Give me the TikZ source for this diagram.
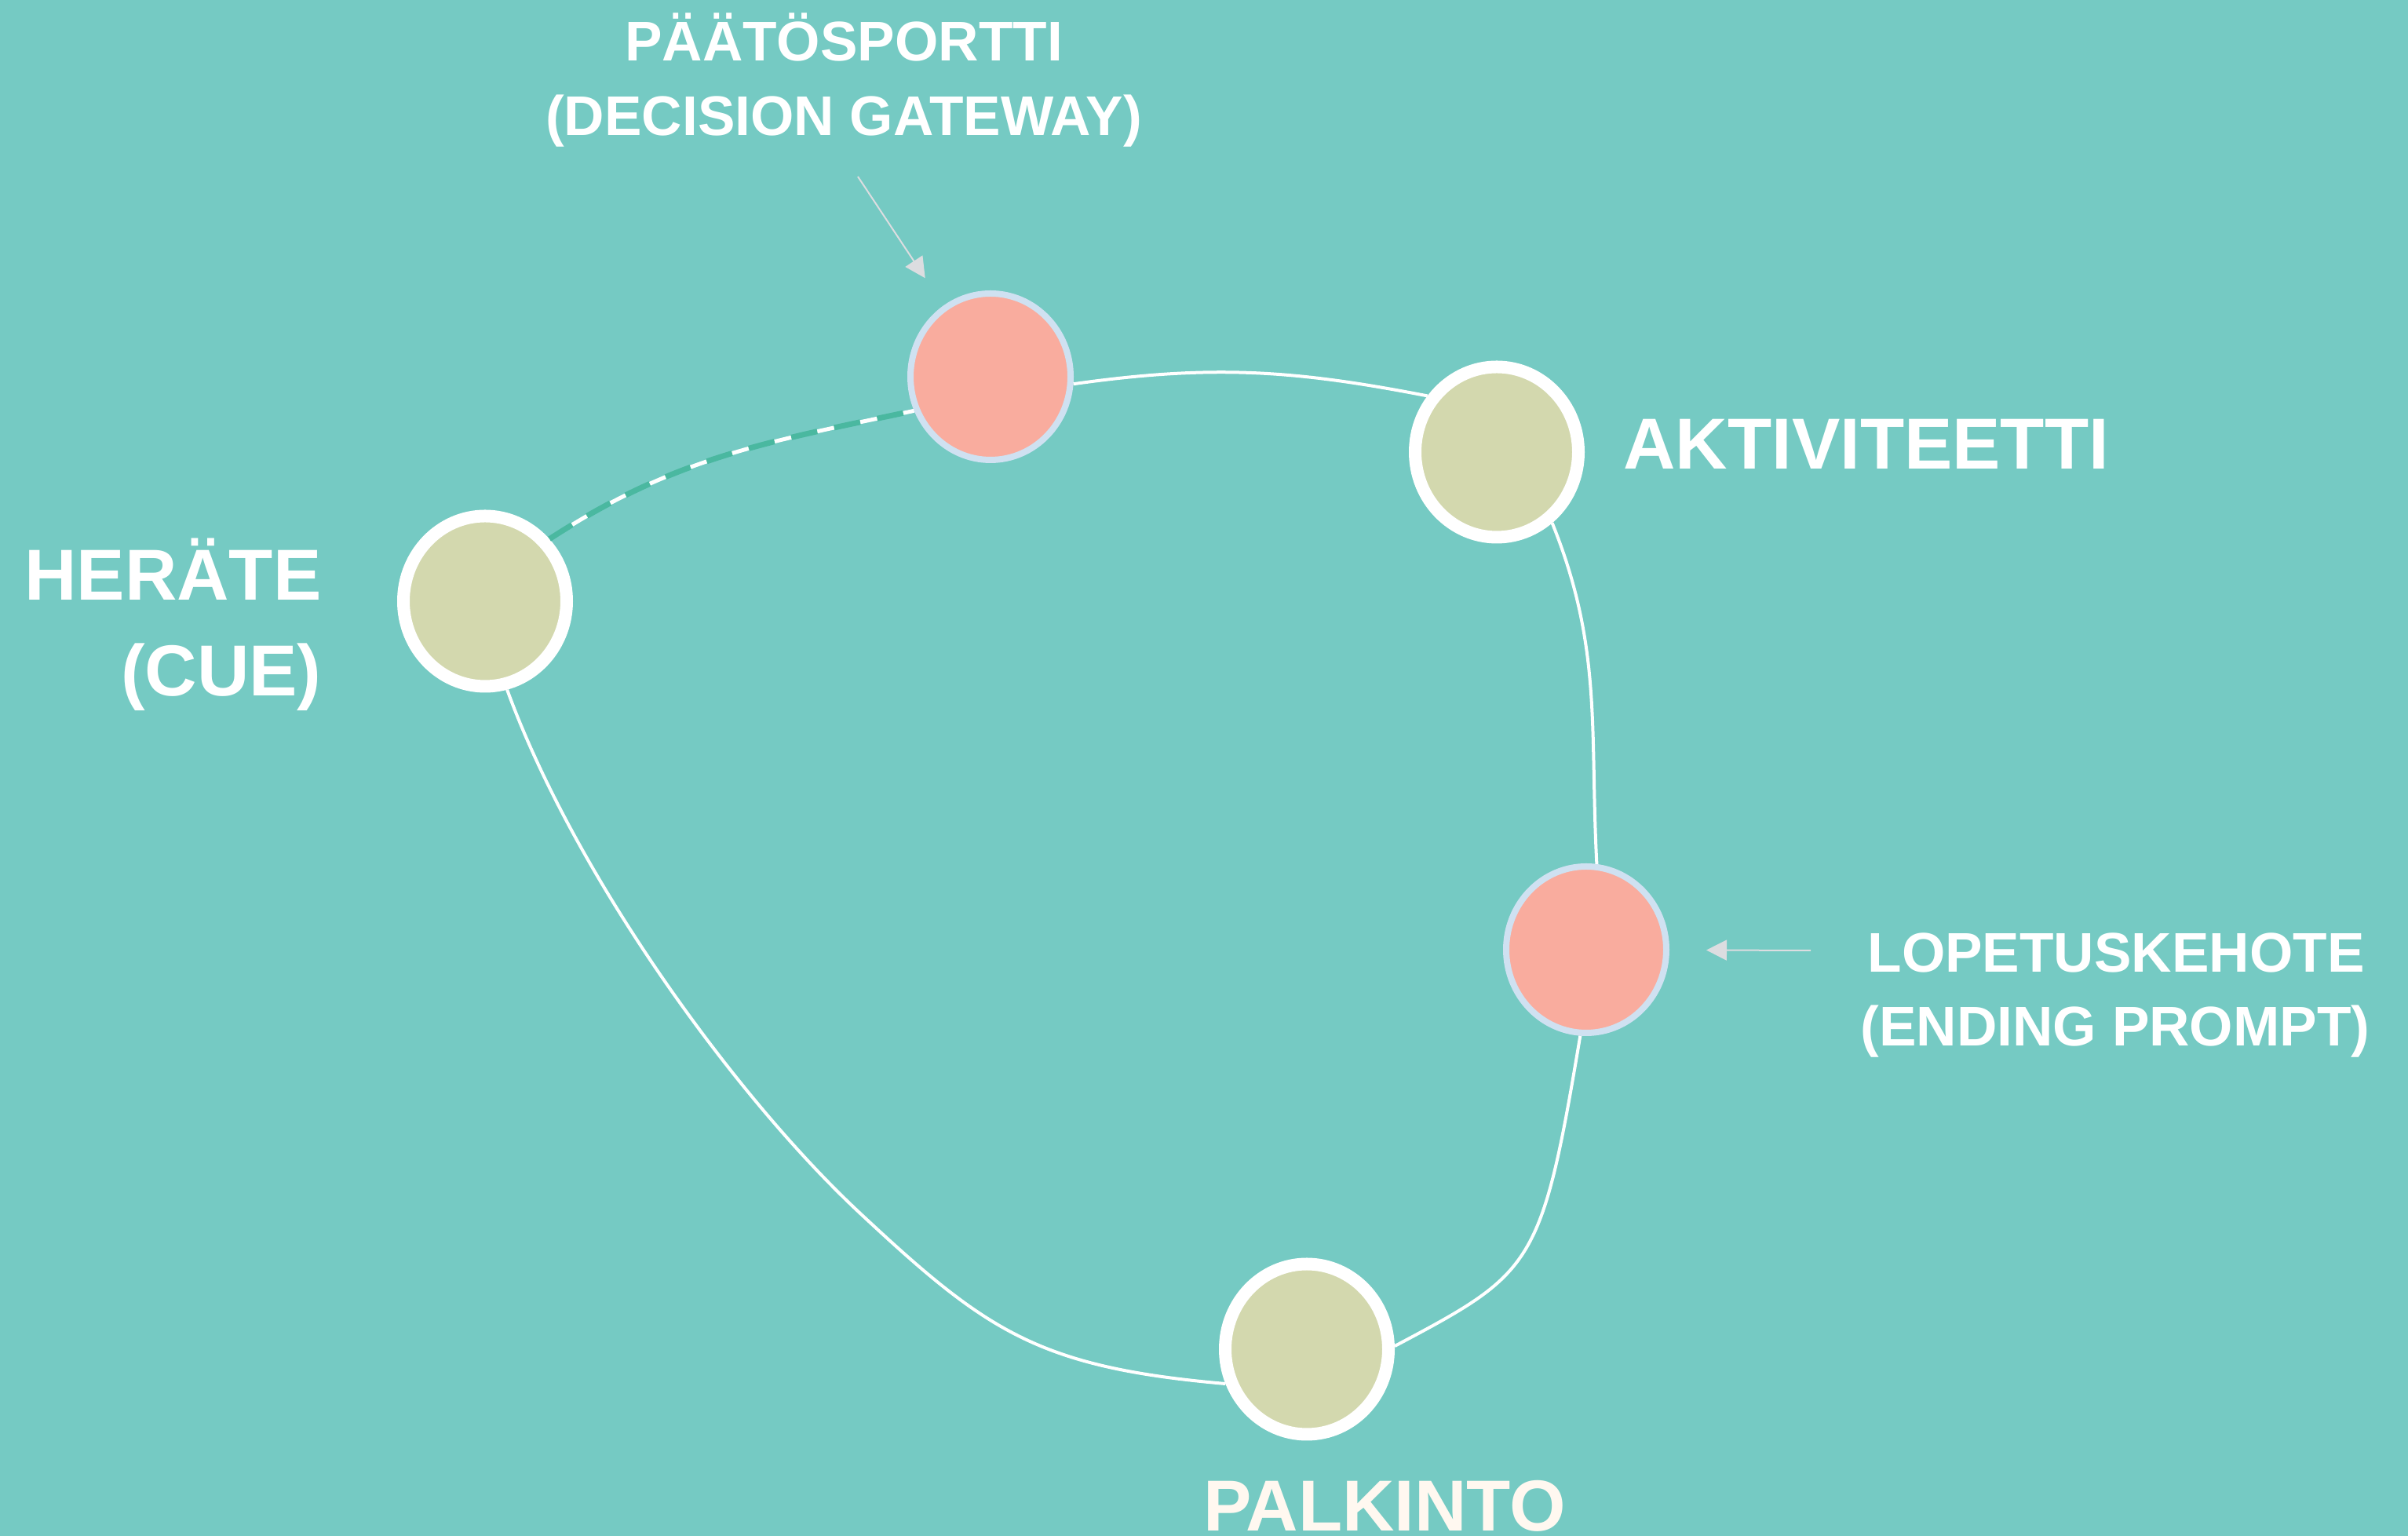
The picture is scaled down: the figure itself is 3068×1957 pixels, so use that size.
\documentclass[tikz,border=0pt]{standalone}
\usepackage{fontspec}
\setmainfont{Liberation Sans}
\usetikzlibrary{shapes.geometric,arrows.meta}

\definecolor{bgteal}{HTML}{75CAC3}
\definecolor{ringgreen}{HTML}{D3D8AE}
\definecolor{salmon}{HTML}{F9AC9E}
\definecolor{ringblue}{HTML}{CFE1F1}
\definecolor{dashgreen}{HTML}{4AB8A0}
\definecolor{arrowgray}{HTML}{DCDDE0}
\definecolor{cream}{HTML}{FFF8F0}

\tikzset{
  greenring/.style={ellipse, draw=white, line width=8pt, fill=ringgreen,
    minimum width=104pt, minimum height=108.5pt, inner sep=0pt},
  redring/.style={ellipse, draw=ringblue, line width=4pt, fill=salmon,
    minimum width=102pt, minimum height=106pt, inner sep=0pt},
  loopline/.style={draw=white, line width=2pt},
  dashline/.style={draw=dashgreen, line width=3.5pt, dash pattern=on 17pt off 11pt},
  pointer/.style={draw=arrowgray, line width=1pt, -{Triangle[length=13pt,width=13pt]}},
  biglabel/.style={text=white, inner sep=0pt, font=\fontsize{46}{55}\selectfont\bfseries},
  smalllabel/.style={text=white, inner sep=0pt, font=\fontsize{35.6}{43}\selectfont\bfseries}
}

\begin{document}
\begin{tikzpicture}[x=0.5pt,y=0.5pt]
    \useasboundingbox (0,0) rectangle (3068,1957);
    \fill[bgteal] (0,0) rectangle (3068,1957);

    % the five steps of the loop
    \node[greenring] (cue) at (618,1191) {};
    \node[redring] (gate) at (1262,1477) {};
    \node[greenring] (act) at (1907,1381) {};
    \node[redring] (stop) at (2021,747) {};
    \node[greenring] (reward) at (1665,238) {};

    % loop
    \coordinate (bend) at (1096,411);
    \draw[loopline, line width=2.5pt] (cue.44) to[out=33,in=192] (gate.204);
    \draw[dashline] (cue.44) to[out=33,in=192] (gate.204);
    \draw[loopline] (gate.-5) to[out=8,in=169] (act.141);
    \draw[loopline] (act.-52) to[out=-68,in=93] (stop.83);
    \draw[loopline] (stop.-94) .. controls +(-99.5:300) and +(28:200) .. (reward.2);
    \draw[loopline] (reward.203) .. controls +(175:240) and +(-43:220) .. (bend)
        .. controls +(137:220) and +(-70:250) .. (cue.-76);

    % labels
    \node[smalllabel, anchor=base] (gatename) at (1075,1879) {PÄÄTÖSPORTTI};
    \node[smalllabel, anchor=base] (gateeng) at (1075,1784) {(DECISION GATEWAY)};
    \node[biglabel, anchor=base west] (actname) at (2068,1359) {AKTIVITEETTI};
    \node[biglabel, anchor=base east] (cuename) at (410,1192) {HERÄTE};
    \node[biglabel, anchor=base east] (cueeng) at (410,1070) {(CUE)};
    \node[smalllabel, anchor=base] (stopname) at (2696,718) {LOPETUSKEHOTE};
    \node[smalllabel, anchor=base] (stopeng) at (2695,624) {(ENDING PROMPT)};
    \node[biglabel, anchor=base, text=cream] (rewardname) at (1764,6) {PALKINTO};

    % pointers
    \coordinate (gatetail) at (1093,1732);
    \coordinate (stoptail) at (2307,746);
    \draw[pointer, shorten >=21pt] (gatetail) -- (gate);
    \draw[pointer, shorten >=23.5pt] (stoptail) -- (stop);
\end{tikzpicture}
\end{document}
